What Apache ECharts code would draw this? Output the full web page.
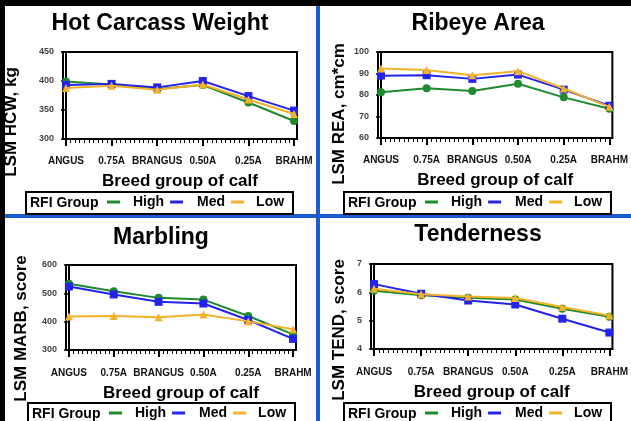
<!DOCTYPE html>
<html><head><meta charset="utf-8">
<script src="https://cdn.jsdelivr.net/npm/echarts@6/dist/echarts.min.js"></script>
<style>html,body{margin:0;padding:0;background:#fff}#c{width:631px;height:421px}</style>
</head><body><div id="c"></div>
<script>
// ---- data ----
const categories = ['ANGUS', '0.75A', 'BRANGUS', '0.50A', '0.25A', 'BRAHM'];
const seriesNames = ['High', 'Med', 'Low'];

const hcwHigh = [399, 394, 386, 393, 363, 331];
const hcwMed  = [393, 395, 389, 400, 374, 349];
const hcwLow  = [388, 392, 385, 394, 368, 343];

const reaHigh = [81.3, 83.1, 81.9, 85.2, 78.9, 73.6];
const reaMed  = [89.0, 89.2, 87.5, 89.5, 82.5, 75.0];
const reaLow  = [92.3, 91.6, 89.2, 91.1, 83.0, 74.5];

const marbHigh = [534, 507, 484, 478, 420, 355];
const marbMed  = [524, 496, 470, 464, 406, 339];
const marbLow  = [418, 420, 416, 425, 401, 373];

const tendHigh = [6.06, 5.90, 5.81, 5.75, 5.42, 5.14];
const tendMed  = [6.29, 5.95, 5.71, 5.57, 5.07, 4.58];
const tendLow  = [6.13, 5.93, 5.85, 5.80, 5.48, 5.18];

const panelTitles = ['Hot Carcass Weight', 'Ribeye Area', 'Marbling', 'Tenderness'];
const yNames = ['LSM HCW, kg', 'LSM REA, cm*cm', 'LSM MARB, score', 'LSM TEND, score'];
const xName = 'Breed group of calf';
const legendTitle = 'RFI Group';
// y axis ticks: [min, max, interval]
const hcwTicks  = [300, 450, 50];
const reaTicks  = [60, 100, 10];
const marbTicks = [300, 600, 100];
const tendTicks = [4, 7, 1];

// ---- layout / style ----
const FONT = '"Liberation Sans", Arial, Helvetica, sans-serif';
const colors = ['#1f8a2e', '#2323ee', '#f2b22a'];
const symbols = ['circle', 'rect', 'triangle'];
const PAD = 0.065;

const panels = [
  {grid:{left:63, top:52, width:234, height:87}, title:[160,24], yname:[11.5,122], box:[26,192], ticks:hcwTicks, series:[hcwHigh,hcwMed,hcwLow], lm:17, ng:34},
  {grid:{left:378, top:52, width:239, height:86}, title:[478,24], yname:[339,114], box:[344,192], ticks:reaTicks, series:[reaHigh,reaMed,reaLow], lm:17, ng:34},
  {grid:{left:66, top:265, width:230, height:85}, title:[161,238], yname:[21.5,328.5], box:[28,403], ticks:marbTicks, series:[marbHigh,marbMed,marbLow], lm:18, ng:35},
  {grid:{left:371, top:264, width:246, height:85}, title:[478,235], yname:[339,330], box:[344,403], ticks:tendTicks, series:[tendHigh,tendMed,tendLow], lm:18, ng:35}
];

const catIdx = categories.map((_, i) => i);
const minorVals = [];
for (let i = 0; i < categories.length - 1; i++) for (let k = 1; k < 10; k++) minorVals.push(i + k / 10);

const grid = [], xAxis = [], yAxis = [], series = [], legend = [], graphic = [];

graphic.push({type:'rect', shape:{x:0,y:0,width:631,height:6}, style:{fill:'#000'}, z:20});
graphic.push({type:'rect', shape:{x:0,y:0,width:5,height:421}, style:{fill:'#000'}, z:20});
graphic.push({type:'rect', shape:{x:316,y:6,width:4,height:415}, style:{fill:'#1a5ccf'}, z:20});
graphic.push({type:'rect', shape:{x:5,y:214,width:626,height:4}, style:{fill:'#1a5ccf'}, z:20});

panels.forEach((p, i) => {
  grid.push(Object.assign({show:true, borderColor:'#000', borderWidth:2, backgroundColor:'#fff'}, p.grid));
  xAxis.push({
    type:'value', gridIndex:i, min:-PAD, max:categories.length - 1 + PAD,
    axisLine:{show:true, onZero:false, lineStyle:{color:'#000', width:2}},
    axisTick:{show:true, customValues:catIdx, length:7, lineStyle:{color:'#000', width:2}},
    axisLabel:{customValues:catIdx, formatter:v => categories[Math.round(v)], margin:p.lm,
      fontSize:10, fontWeight:'bold', color:'#111', fontFamily:FONT},
    splitLine:{show:false},
    name:xName, nameLocation:'middle', nameGap:p.ng,
    nameTextStyle:{fontSize:17, fontWeight:'bold', color:'#000', fontFamily:FONT}
  });
  xAxis.push({
    type:'value', gridIndex:i, min:-PAD, max:categories.length - 1 + PAD, position:'bottom',
    axisLine:{show:false}, axisLabel:{show:false}, splitLine:{show:false},
    axisTick:{show:true, customValues:minorVals, length:4, lineStyle:{color:'#000', width:1}}
  });
  yAxis.push({
    type:'value', gridIndex:i, min:p.ticks[0], max:p.ticks[1], interval:p.ticks[2],
    axisLine:{show:true, lineStyle:{color:'#000', width:2}},
    axisTick:{show:true, length:5, lineStyle:{color:'#000', width:1.5}},
    axisLabel:{fontSize:9, fontWeight:'bold', color:'#444', margin:9, fontFamily:FONT},
    splitLine:{show:false}
  });
  p.series.forEach((vals, s) => {
    series.push({
      type:'line', name:seriesNames[s], xAxisIndex:2*i, yAxisIndex:i,
      data: vals.map((v, k) => [k, v]),
      symbol:symbols[s], symbolSize:8, showSymbol:true,
      itemStyle:{color:colors[s]}, lineStyle:{color:colors[s], width:2},
      emphasis:{disabled:true}, animation:false, z:3 + s
    });
  });
  legend.push({
    left:p.box[0] + 81, top:p.box[1] + 3, orient:'horizontal', padding:0, itemGap:6,
    itemWidth:13, itemHeight:3, icon:'rect', selectedMode:false,
    textStyle:{fontSize:14, fontWeight:'bold', color:'#000', fontFamily:FONT},
    data:[
      {name:'High', textStyle:{padding:[0,0,0,8]}},
      {name:'Med', textStyle:{padding:[0,7,0,9]}},
      {name:'Low', textStyle:{padding:[0,0,0,7]}}
    ]
  });
  graphic.push({type:'rect', z:20, shape:{x:p.box[0], y:p.box[1], width:267, height:22},
    style:{fill:'rgba(0,0,0,0)', stroke:'#000', lineWidth:2}});
  graphic.push({type:'text', z:20, x:p.box[0] + 4, y:p.box[1] + 11,
    style:{text:legendTitle, font:'bold 14px ' + FONT, fill:'#000', align:'left', verticalAlign:'middle'}});
  graphic.push({type:'text', z:20, x:p.title[0], y:p.title[1],
    style:{text:panelTitles[i], font:'bold 23px ' + FONT, fill:'#000', align:'center', verticalAlign:'middle'}});
  graphic.push({type:'text', z:20, x:p.yname[0], y:p.yname[1], rotation:Math.PI / 2,
    style:{text:yNames[i], font:'bold 17px ' + FONT, fill:'#000', align:'center', verticalAlign:'middle'}});
});

const chart = echarts.init(document.getElementById('c'), null, {renderer:'canvas'});
chart.setOption({
  animation:false, backgroundColor:'#fff',
  grid, xAxis, yAxis, series, legend, graphic
});
</script>
</body></html>
